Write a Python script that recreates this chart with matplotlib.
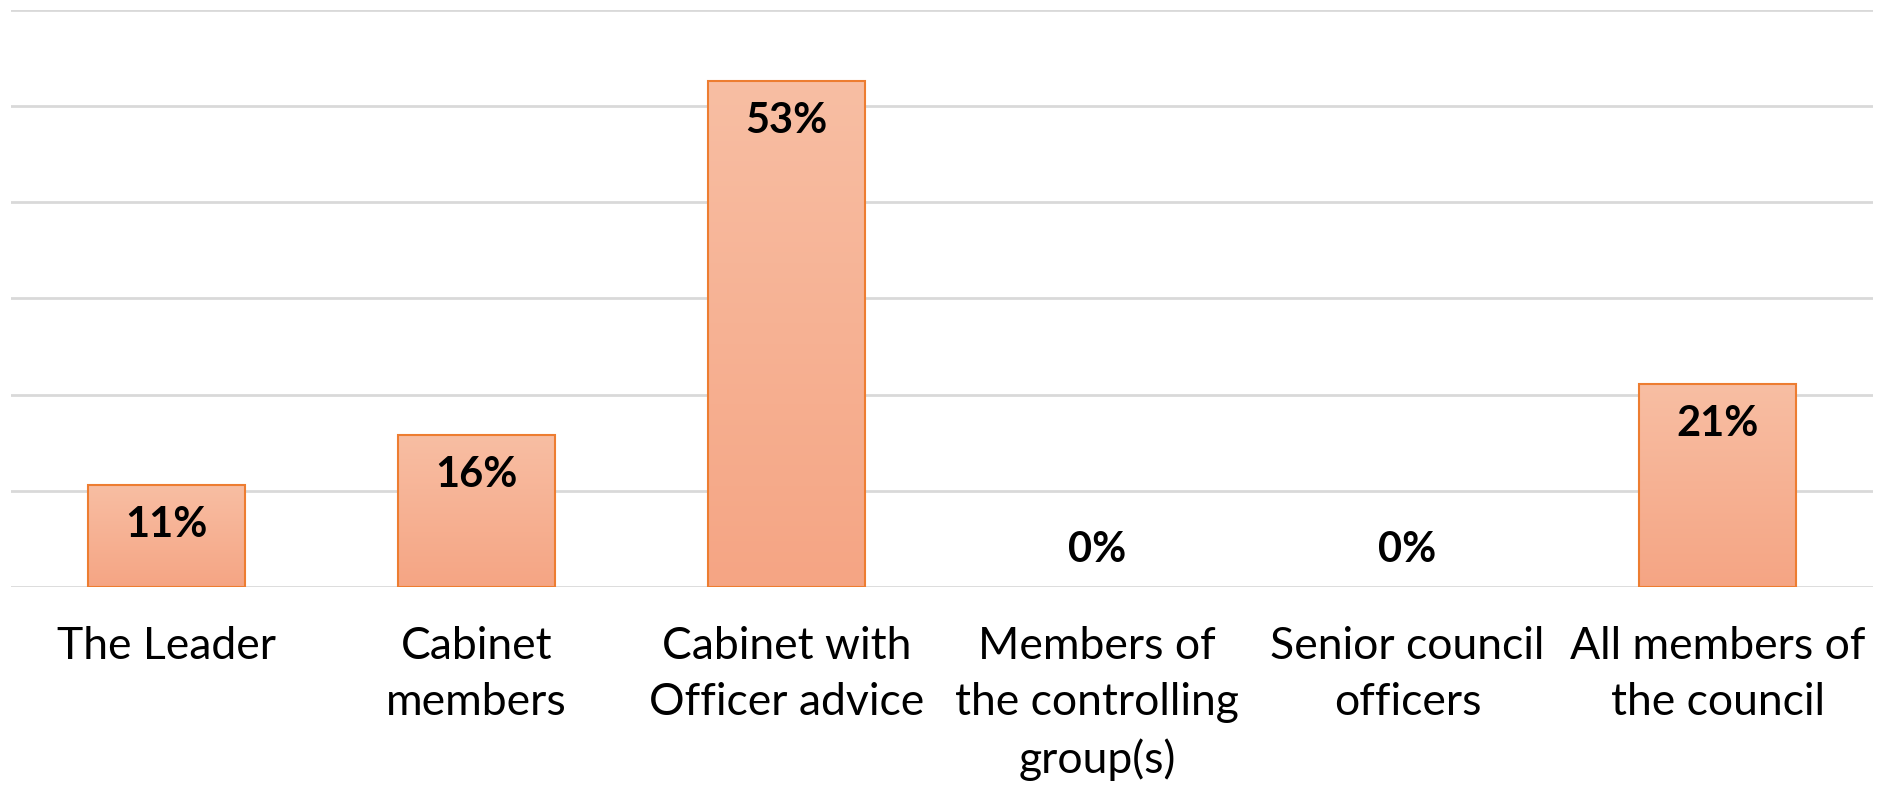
import matplotlib.pyplot as plt
import numpy as np
from matplotlib.colors import LinearSegmentedColormap

categories = ['The Leader', 'Cabinet\nmembers', 'Cabinet with\nOfficer advice',
              'Members of\nthe controlling\ngroup(s)', 'Senior council\nofficers',
              'All members of\nthe council']
values = [10.6, 15.8, 52.6, 0.0, 0.0, 21.1]
labels = ['11%', '16%', '53%', '0%', '0%', '21%']

plt.rcParams['font.family'] = ['Lato', 'DejaVu Sans']

fig = plt.figure(figsize=(18.85, 7.9), dpi=100)
ax = fig.add_axes([11 / 1885, 203 / 790, 1862 / 1885, 577.5 / 790])

x = np.arange(len(categories))
bars = ax.bar(x, values, width=0.506, facecolor='none', edgecolor='#ED7D31',
              linewidth=1.5, zorder=3)

# gradient fill like the excel bars, no outline on empty bars
grad = LinearSegmentedColormap.from_list('g', ['#F5A584', '#F8BEA3'])
for b in bars:
    h = b.get_height()
    if h <= 0:
        b.set_linewidth(0)
        continue
    ax.imshow(np.linspace(0, 1, 100).reshape(-1, 1), cmap=grad, aspect='auto',
              origin='lower', extent=(b.get_x(), b.get_x() + b.get_width(), 0, h),
              zorder=2)

for b, v, lab in zip(bars, values, labels):
    cx = b.get_x() + b.get_width() / 2
    if v > 0:
        off = -40 * 0.72
    else:
        off = 37 * 0.72
    ax.annotate(lab, (cx, v), xytext=(0, off), textcoords='offset points',
                ha='center', va='center', fontsize=30, fontweight='bold', zorder=4)

ax.set_xlim(-0.5, len(categories) - 0.5)
ax.set_ylim(0, 60)
ax.set_yticks(np.arange(0, 61, 10))
ax.yaxis.grid(True, color='#D9D9D9', linewidth=2)
ax.set_axisbelow(True)
ax.tick_params(axis='y', left=False, labelleft=False)
ax.tick_params(axis='x', length=0, pad=28)
ax.set_xticks(x)
ax.set_xticklabels(categories, fontsize=32, linespacing=1.45)
for s in ax.spines.values():
    s.set_visible(False)

fig.savefig('out.png', dpi=100)
